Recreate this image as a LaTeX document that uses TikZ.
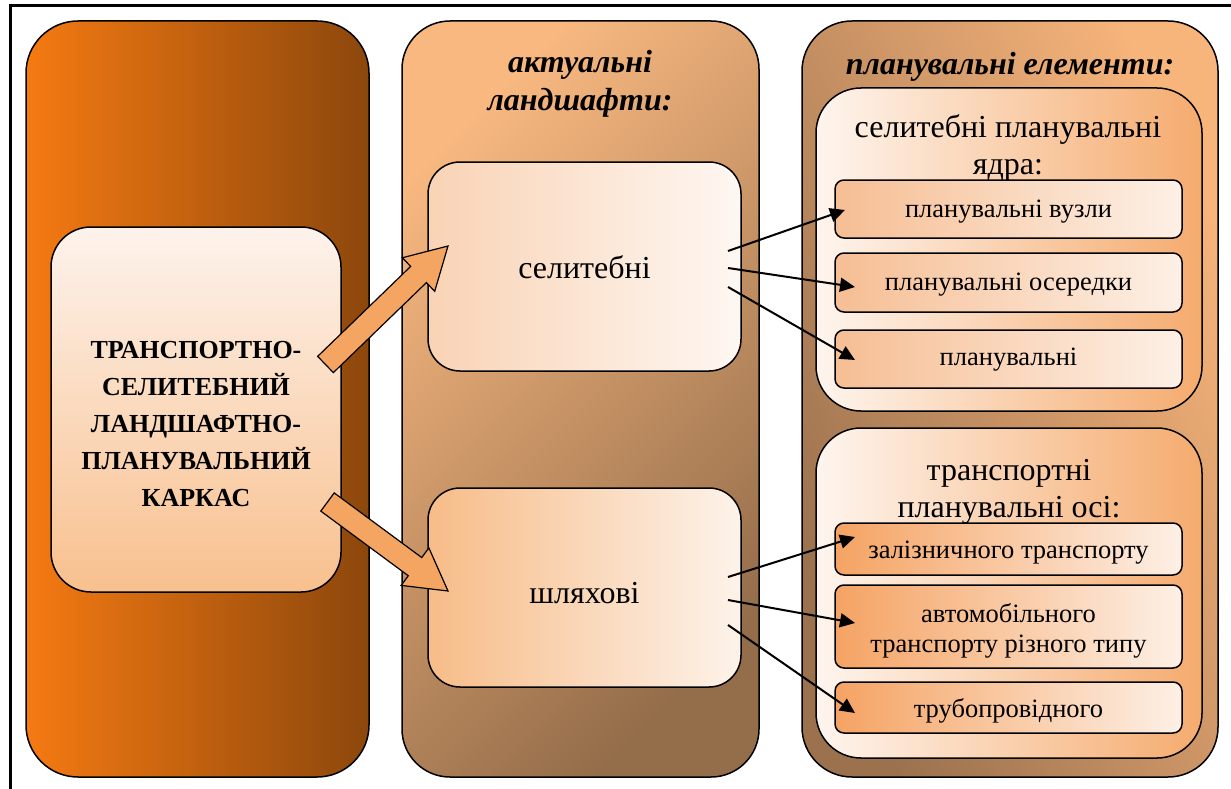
\documentclass[tikz,border=0pt]{standalone}
\usepackage{fontspec}
\setmainfont{Liberation Serif}
\usetikzlibrary{calc,arrows.meta}
\definecolor{cOneL}{HTML}{F57A12}
\definecolor{cOneM}{HTML}{CF680F}
\definecolor{cOneR}{HTML}{8C470C}
\definecolor{coreT}{HTML}{FDF3EC}
\definecolor{coreB}{HTML}{F8C08E}
\definecolor{cTwoL}{HTML}{F8B880}
\definecolor{cTwoD}{HTML}{946D4A}
\definecolor{selL}{HTML}{F9D3B5}
\definecolor{selR}{HTML}{FEF7F2}
\definecolor{shlL}{HTML}{F7BC88}
\definecolor{shlR}{HTML}{FDF3EA}
\definecolor{cThrL}{HTML}{F7B47B}
\definecolor{cThrD}{HTML}{9B714E}
\definecolor{grpL}{HTML}{FEF5EE}
\definecolor{grpR}{HTML}{F5AB6E}
\definecolor{subL}{HTML}{F5A363}
\definecolor{subLa}{HTML}{F6BE93}
\definecolor{subR}{HTML}{FDF0E6}
\definecolor{barrowfill}{HTML}{F5A562}
\tikzset{
  panel/.style={draw=black, line width=1.5pt, outer sep=0pt, inner sep=0pt},
  ttl/.style={font=\fontsize{32}{39}\selectfont\bfseries\itshape, align=center, anchor=base, inner sep=0pt},
  bigtxt/.style={font=\fontsize{32}{37}\selectfont, align=center, anchor=base, inner sep=0pt},
  smalltxt/.style={font=\fontsize{26.5}{30}\selectfont, align=center, anchor=base, inner sep=0pt},
  coretxt/.style={font=\fontsize{26}{37}\selectfont\bfseries, align=center, anchor=base, inner sep=0pt},
  subbox/.style={panel, rounded corners=9pt, left color=subL, right color=subR, minimum width=347pt},
  subboxa/.style={panel, rounded corners=9pt, left color=subLa, right color=subR, minimum width=347pt},
  thinarrow/.style={line width=2pt, -{Triangle[length=15pt,width=14pt]}},
  barrow/.style={draw=black, line width=1.2pt, fill=barrowfill, line join=miter}
}
\newcommand\myblockarrow[2]{%
  \coordinate (hb) at ($(#2)!41pt!(#1)$);
  \draw[barrow] ($(#1)!11.3pt!90:(#2)$) -- ($(hb)!11.3pt!90:(#2)$) -- ($(hb)!23.3pt!90:(#2)$) -- (#2)
     -- ($(hb)!23.3pt!-90:(#2)$) -- ($(hb)!11.3pt!-90:(#2)$) -- ($(#1)!11.3pt!-90:(#2)$) -- cycle;}
\begin{document}
\begin{tikzpicture}[x=1pt,y=-1pt]
\useasboundingbox (0,0) rectangle (1231,789);
\fill[white] (0,0) rectangle (1231,789);
\draw[line width=3pt] (10,6) rectangle (1250,810);

% columns
\node[panel, rounded corners=52pt, left color=cOneL, middle color=cOneM, right color=cOneR,
      minimum width=343pt, minimum height=756pt] (col1) at (197.5,399) {};
\node[panel, rounded corners=48pt, top color=cTwoL, bottom color=cTwoD, shading angle=45,
      minimum width=357pt, minimum height=756pt] (col2) at (580.5,399) {};
\node[panel, rounded corners=50pt, top color=cThrL, bottom color=cThrD, shading angle=-65,
      minimum width=416pt, minimum height=756pt] (col3) at (1010,399) {};

% column 1
\node[panel, rounded corners=40pt, top color=coreT, bottom color=coreB,
      minimum width=290pt, minimum height=365pt] (core) at (196,409.5) {};
\node[coretxt] (coretext) at (196,506) {ТРАНСПОРТНО-\\СЕЛИТЕБНИЙ\\ЛАНДШАФТНО-\\ПЛАНУВАЛЬНИЙ\\КАРКАС};

% column 2
\node[ttl] (t2) at (580,111) {актуальні\\ландшафти:};
\node[panel, rounded corners=32pt, left color=selL, right color=selR,
      minimum width=313pt, minimum height=209pt] (sel) at (584.5,266.5) {};
\node[bigtxt] at (584.5,278) {селитебні};
\node[panel, rounded corners=32pt, left color=shlL, right color=shlR,
      minimum width=313pt, minimum height=199pt] (shl) at (584.5,587.5) {};
\node[bigtxt] at (584.5,603) {шляхові};

% column 3
\node[ttl] (t3) at (1010,75) {планувальні елементи:};
\node[panel, rounded corners=45pt, left color=grpL, right color=grpR,
      minimum width=386pt, minimum height=323pt] (g1) at (1009,249.5) {};
\node[bigtxt] (g1t) at (1008,175) {селитебні планувальні\\ядра:};
\node[panel, rounded corners=45pt, left color=grpL, right color=grpR,
      minimum width=386pt, minimum height=330pt] (g2) at (1009,593) {};
\node[bigtxt] (g2t) at (1009,517) {транспортні\\планувальні осі:};

\node[subboxa, minimum height=58pt] (vuz) at (1008.5,209) {};
\node[smalltxt] at (1008.5,217) {планувальні вузли};
\node[subboxa, minimum height=59pt] (ose) at (1008.5,282.5) {};
\node[smalltxt] at (1008.5,290) {планувальні осередки};
\node[subboxa, minimum height=58pt] (plan) at (1008.5,359) {};
\node[smalltxt] at (1008.5,365) {планувальні};

\node[subbox, minimum height=52pt] (zal) at (1008.5,549) {};
\node[smalltxt] at (1008.5,558) {залізничного транспорту};
\node[subbox, minimum height=83pt] (avt) at (1008.5,626.5) {};
\node[smalltxt] at (1008.5,652) {автомобільного\\транспорту різного типу};
\node[subbox, minimum height=51pt] (tru) at (1008.5,707.5) {};
\node[smalltxt] at (1008.5,717) {трубопровідного};

% block arrows
\coordinate (s1) at ($(core.east)+(-15.5,-45)$);
\coordinate (e1) at ($(sel.west)+(20,-20.5)$);
\coordinate (s2) at ($(core.east)+(-13.5,92.5)$);
\coordinate (e2) at ($(shl.west)+(20,3.5)$);
\myblockarrow{s1}{e1}
\myblockarrow{s2}{e2}

% thin arrows
\draw[thinarrow] ($(sel.east)+(-13,-15.5)$) -- ($(vuz.west)+(10,1)$);
\draw[thinarrow] ($(sel.east)+(-13,1.5)$) -- ($(ose.west)+(20,4.5)$);
\draw[thinarrow] ($(sel.east)+(-13,20.5)$) -- ($(plan.west)+(20,1)$);
\draw[thinarrow] ($(shl.east)+(-13,-10.5)$) -- ($(zal.west)+(20,-12)$);
\draw[thinarrow] ($(shl.east)+(-13,12.5)$) -- ($(avt.west)+(20,-3.5)$);
\draw[thinarrow] ($(shl.east)+(-13,37.5)$) -- ($(tru.west)+(20,5.5)$);
\end{tikzpicture}
\end{document}
